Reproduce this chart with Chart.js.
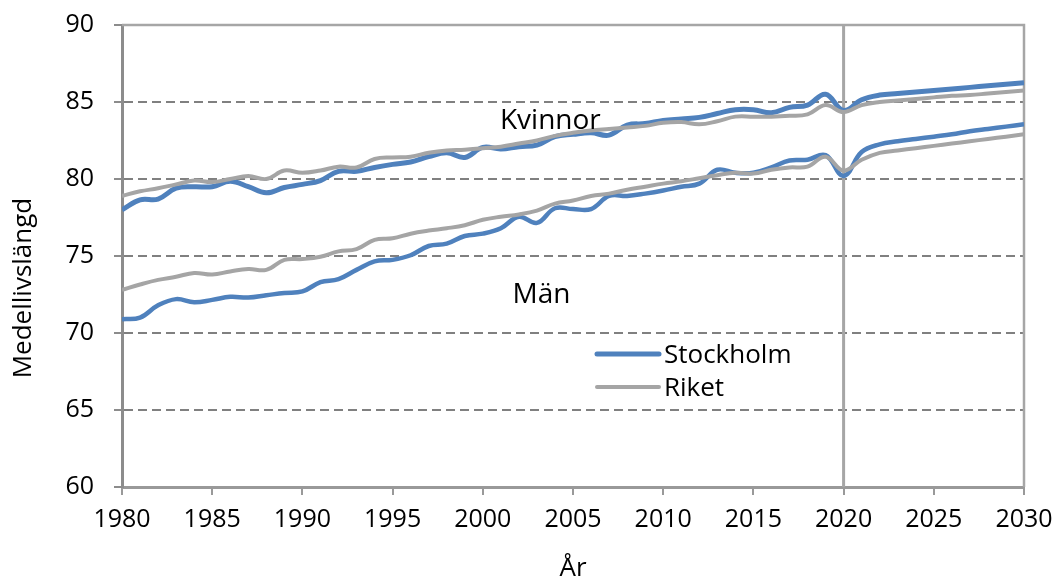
<!DOCTYPE html>
<html>
<head>
<meta charset="utf-8">
<script src="https://cdn.jsdelivr.net/npm/chart.js@4.4.1/dist/chart.umd.min.js"></script>
<style>
  html, body { margin: 0; padding: 0; background: #fff; }
</style>
</head>
<body>
<canvas id="myChart" width="1057" height="584"></canvas>
<script>
const years = [];
for (let y = 1980; y <= 2030; y++) years.push(y);

const sthlmKvinnor = [78.0, 78.65, 78.7, 79.4, 79.5, 79.5, 79.85, 79.5, 79.1, 79.45,
  79.65, 79.9, 80.5, 80.5, 80.75, 80.95, 81.1, 81.45, 81.7, 81.4,
  82.05, 81.95, 82.1, 82.2, 82.75, 82.9, 83.0, 82.85, 83.5, 83.6,
  83.8, 83.9, 84.0, 84.25, 84.5, 84.5, 84.3, 84.65, 84.8, 85.5,
  84.45, 85.15, 85.45, 85.55, 85.65, 85.75, 85.85, 85.95, 86.05, 86.15, 86.25];

const riketKvinnor = [78.9, 79.2, 79.4, 79.65, 79.9, 79.8, 80.0, 80.2, 80.0, 80.55,
  80.4, 80.55, 80.8, 80.75, 81.3, 81.4, 81.45, 81.7, 81.85, 81.9,
  82.0, 82.1, 82.3, 82.5, 82.8, 83.0, 83.15, 83.25, 83.35, 83.45,
  83.65, 83.7, 83.55, 83.75, 84.05, 84.05, 84.05, 84.1, 84.2, 84.8,
  84.35, 84.8, 85.0, 85.1, 85.2, 85.3, 85.4, 85.45, 85.55, 85.65, 85.75];

const sthlmMan = [70.9, 71.0, 71.8, 72.2, 72.0, 72.15, 72.35, 72.3, 72.45, 72.6,
  72.7, 73.3, 73.5, 74.1, 74.65, 74.75, 75.05, 75.65, 75.8, 76.3,
  76.45, 76.8, 77.55, 77.15, 78.1, 78.05, 78.05, 78.9, 78.9, 79.05,
  79.25, 79.5, 79.7, 80.6, 80.4, 80.4, 80.75, 81.2, 81.25, 81.55,
  80.2, 81.75, 82.25, 82.45, 82.6, 82.75, 82.9, 83.1, 83.25, 83.4, 83.55];

const riketMan = [72.8, 73.15, 73.45, 73.65, 73.9, 73.8, 74.0, 74.15, 74.1, 74.75,
  74.8, 74.95, 75.3, 75.45, 76.05, 76.15, 76.45, 76.65, 76.8, 77.0,
  77.35, 77.55, 77.7, 77.95, 78.4, 78.6, 78.9, 79.05, 79.3, 79.5,
  79.7, 79.85, 80.05, 80.25, 80.4, 80.35, 80.6, 80.75, 80.8, 81.45,
  80.55, 81.25, 81.7, 81.85, 82.0, 82.15, 82.3, 82.45, 82.6, 82.75, 82.9];

const yTicks = [60, 65, 70, 75, 80, 85, 90];
const xTicks = [1980, 1985, 1990, 1995, 2000, 2005, 2010, 2015, 2020, 2025, 2030];
const prognosYear = 2020;
const seriesNames = ['Stockholm', 'Riket'];
const groupLabels = [
  { text: 'Kvinnor', x: 2000.95, y: 83.25 },
  { text: 'Män', x: 2001.65, y: 71.95 }
];

const BLUE = '#4f81bd';
const GREY = '#a5a5a5';
const FONT = "'Open Sans', 'Liberation Sans', sans-serif";

function toPoints(vals) {
  return years.map((yr, i) => ({ x: yr, y: vals[i] }));
}

function lineSet(label, vals, color, width, order) {
  return {
    label: label,
    data: toPoints(vals),
    borderColor: color,
    backgroundColor: color,
    borderWidth: width,
    pointRadius: 0,
    tension: 0.4,
    fill: false,
    order: order
  };
}

const extras = {
  id: 'extras',
  beforeDatasetsDraw(chart) {
    const { ctx, chartArea: a, scales: { x } } = chart;
    ctx.save();
    ctx.strokeStyle = '#a6a6a6';
    ctx.lineWidth = 2.5;
    ctx.beginPath();
    ctx.moveTo(a.left, a.top);
    ctx.lineTo(a.right, a.top);
    ctx.lineTo(a.right, a.bottom);
    ctx.stroke();
    const px = x.getPixelForValue(prognosYear);
    ctx.lineWidth = 3;
    ctx.beginPath();
    ctx.moveTo(px, a.top);
    ctx.lineTo(px, a.bottom);
    ctx.stroke();
    ctx.restore();
  },
  afterDatasetsDraw(chart) {
    const { ctx, chartArea: a, scales: { x, y } } = chart;
    ctx.save();
    ctx.fillStyle = '#000';
    ctx.textAlign = 'left';
    ctx.textBaseline = 'alphabetic';
    ctx.font = '28px ' + FONT;
    groupLabels.forEach(g => {
      ctx.fillText(g.text, x.getPixelForValue(g.x), y.getPixelForValue(g.y));
    });

    // legend inside the plot
    ctx.font = '26px ' + FONT;
    const lx = a.left + 475;
    const ly = a.top + 329;
    const colors = [BLUE, GREY];
    const widths = [5, 4];
    ctx.lineCap = 'round';
    seriesNames.forEach((name, i) => {
      const yy = ly + i * 33;
      ctx.strokeStyle = colors[i];
      ctx.lineWidth = widths[i];
      ctx.beginPath();
      ctx.moveTo(lx, yy);
      ctx.lineTo(lx + 62, yy);
      ctx.stroke();
      ctx.fillText(name, lx + 67, yy + 9);
    });

    // y axis title
    ctx.translate(24, 288);
    ctx.rotate(-Math.PI / 2);
    ctx.textAlign = 'center';
    ctx.textBaseline = 'middle';
    ctx.fillText('Medellivslängd', 0, 0);
    ctx.restore();
  }
};

const chart = new Chart(document.getElementById('myChart'), {
  type: 'line',
  data: {
    datasets: [
      lineSet('Stockholm kvinnor', sthlmKvinnor, BLUE, 5, 2),
      lineSet('Stockholm män', sthlmMan, BLUE, 4.5, 2),
      lineSet('Riket kvinnor', riketKvinnor, GREY, 4, 1),
      lineSet('Riket män', riketMan, GREY, 4, 1)
    ]
  },
  options: {
    responsive: false,
    devicePixelRatio: 1,
    animation: false,
    layout: { padding: { top: 25, right: 33, left: 0, bottom: 0 } },
    plugins: { legend: { display: false }, tooltip: { enabled: false } },
    scales: {
      x: {
        type: 'linear',
        min: 1980,
        max: 2030,
        afterBuildTicks: axis => { axis.ticks = xTicks.map(v => ({ value: v })); },
        afterFit: axis => {
          axis.height = 97;
          axis.paddingLeft = 0;
          axis.paddingRight = 0;
        },
        ticks: {
          color: '#000',
          font: { family: FONT, size: 25 },
          padding: 10,
          maxRotation: 0,
          callback: v => String(v)
        },
        grid: { drawOnChartArea: false, drawTicks: true, tickLength: 8, tickColor: '#999', lineWidth: 2 },
        border: { color: '#999', width: 3 },
        title: {
          display: true,
          text: 'År',
          color: '#000',
          font: { family: FONT, size: 26 },
          padding: { top: 0, bottom: 0 }
        }
      },
      y: {
        min: 60,
        max: 90,
        afterBuildTicks: axis => { axis.ticks = yTicks.map(v => ({ value: v })); },
        afterFit: axis => {
          axis.width = 122;
          axis.paddingTop = 0;
          axis.paddingBottom = 0;
        },
        ticks: {
          color: '#000',
          font: { family: FONT, size: 25 },
          padding: 20
        },
        grid: {
          color: c => (c.tick && (c.tick.value === 60 || c.tick.value === 90)) ? 'rgba(0,0,0,0)' : '#808080',
          lineWidth: 2,
          tickLength: 8,
          tickColor: '#8c8c8c'
        },
        border: { color: '#8c8c8c', width: 3, dash: [9, 5] }
      }
    }
  },
  plugins: [extras]
});
</script>
</body>
</html>
